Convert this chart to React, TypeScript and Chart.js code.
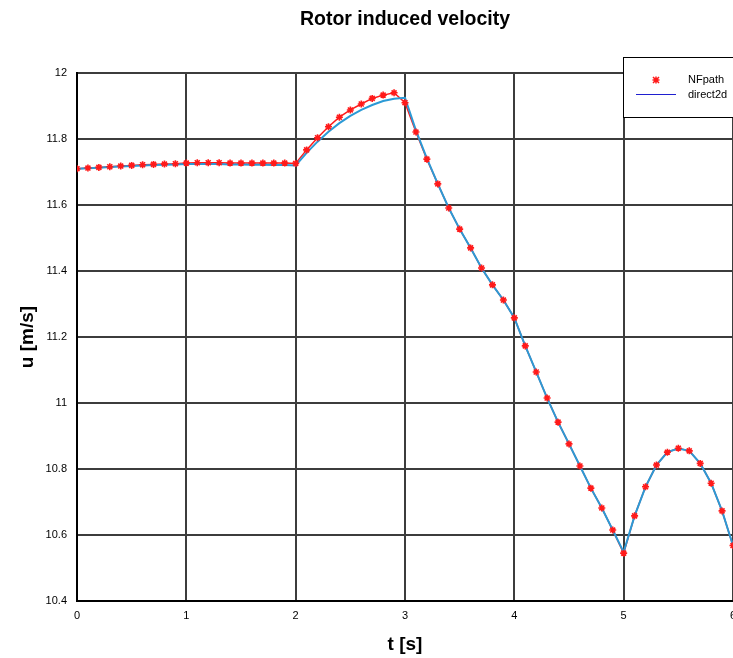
import { useEffect, useRef } from "react";
import { Chart, registerables } from "chart.js";

Chart.register(...registerables);

// Simulation time stamps [s]
const times = [
  0, 0.1, 0.2, 0.3, 0.4, 0.5, 0.6, 0.7, 0.8, 0.9,
  1.0, 1.1, 1.2, 1.3, 1.4, 1.5, 1.6, 1.7, 1.8, 1.9,
  2.0, 2.1, 2.2, 2.3, 2.4, 2.5, 2.6, 2.7, 2.8, 2.9,
  3.0, 3.1, 3.2, 3.3, 3.4, 3.5, 3.6, 3.7, 3.8, 3.9,
  4.0, 4.1, 4.2, 4.3, 4.4, 4.5, 4.6, 4.7, 4.8, 4.9,
  5.0, 5.1, 5.2, 5.3, 5.4, 5.5, 5.6, 5.7, 5.8, 5.9,
  6.0,
];

// Induced velocity from the NFpath model [m/s]
const nfPath = [
  11.710, 11.712, 11.714, 11.716, 11.718, 11.720, 11.722, 11.723, 11.724, 11.725,
  11.727, 11.728, 11.728, 11.728, 11.727, 11.727, 11.727, 11.727, 11.727, 11.727,
  11.726, 11.767, 11.804, 11.837, 11.866, 11.888, 11.906, 11.923, 11.933, 11.940,
  11.910, 11.821, 11.739, 11.664, 11.591, 11.527, 11.470, 11.409, 11.358, 11.312,
  11.258, 11.173, 11.094, 11.015, 10.942, 10.876, 10.809, 10.742, 10.682, 10.615,
  10.545, 10.658, 10.746, 10.812, 10.851, 10.863, 10.855, 10.817, 10.757, 10.673,
  10.568,
];

// Induced velocity from the direct2d model [m/s]
const direct2d = [
  11.710, 11.711, 11.713, 11.715, 11.717, 11.718, 11.720, 11.721, 11.722, 11.723,
  11.724, 11.724, 11.724, 11.724, 11.723, 11.723, 11.722, 11.722, 11.721, 11.721,
  11.720, 11.758, 11.792, 11.822, 11.848, 11.870, 11.888, 11.903, 11.915, 11.922,
  11.925, 11.826, 11.741, 11.664, 11.591, 11.527, 11.470, 11.409, 11.358, 11.312,
  11.258, 11.173, 11.094, 11.015, 10.942, 10.876, 10.809, 10.742, 10.682, 10.615,
  10.548, 10.658, 10.746, 10.812, 10.851, 10.862, 10.855, 10.817, 10.757, 10.673,
  10.568,
];

const X_MIN = 0;
const X_MAX = 6;
const X_STEP = 1;
const Y_MIN = 10.4;
const Y_MAX = 12;
const Y_STEP = 0.2;

const TITLE = "Rotor induced velocity";
const X_TITLE = "t [s]";
const Y_TITLE = "u [m/s]";
const LEGEND_LABELS = ["NFpath", "direct2d"];

const RED = "#ff1a1a";
const CYAN = "#2b9ad6";
const LEGEND_BLUE = "#1f1fd0";
const GRID = "#3c3c3c";
const FONT = '"Liberation Sans", Arial, sans-serif';

const textPlugin = {
  id: "textAndLegend",
  afterDraw(chart: any) {
    const { ctx, chartArea } = chart;
    const cx = (chartArea.left + chartArea.right) / 2;
    const cy = (chartArea.top + chartArea.bottom) / 2;
    ctx.save();
    ctx.fillStyle = "#000";
    ctx.textAlign = "center";
    ctx.textBaseline = "middle";

    ctx.font = `bold 19.5px ${FONT}`;
    ctx.fillText(TITLE, cx, 20);

    ctx.font = `bold 19px ${FONT}`;
    ctx.fillText(X_TITLE, cx, 645);

    ctx.save();
    ctx.translate(28, cy);
    ctx.rotate(-Math.PI / 2);
    ctx.fillText(Y_TITLE, 0, 0);
    ctx.restore();

    // legend box
    const bx = 623.5;
    const by = 57.5;
    ctx.fillStyle = "#fff";
    ctx.fillRect(bx, by, 140, 60);
    ctx.strokeStyle = "#000";
    ctx.lineWidth = 1;
    ctx.strokeRect(bx, by, 140, 60);

    // NFpath marker
    const mx = 656;
    const my = 80;
    ctx.strokeStyle = RED;
    ctx.lineWidth = 1.5;
    ctx.beginPath();
    ctx.moveTo(mx - 3, my - 3);
    ctx.lineTo(mx + 3, my + 3);
    ctx.moveTo(mx - 3, my + 3);
    ctx.lineTo(mx + 3, my - 3);
    ctx.moveTo(mx - 3.5, my);
    ctx.lineTo(mx + 3.5, my);
    ctx.moveTo(mx, my - 3.5);
    ctx.lineTo(mx, my + 3.5);
    ctx.stroke();

    // direct2d line
    ctx.strokeStyle = LEGEND_BLUE;
    ctx.lineWidth = 1.2;
    ctx.beginPath();
    ctx.moveTo(636, 94.5);
    ctx.lineTo(676, 94.5);
    ctx.stroke();

    ctx.fillStyle = "#000";
    ctx.font = `11px ${FONT}`;
    ctx.textAlign = "left";
    ctx.fillText(LEGEND_LABELS[0], 688, 80);
    ctx.fillText(LEGEND_LABELS[1], 688, 95);
    ctx.restore();
  },
};

export default function App() {
  const canvasRef = useRef<HTMLCanvasElement | null>(null);

  useEffect(() => {
    const canvas = canvasRef.current;
    if (!canvas) return;
    const nfPoints = times.map((t, i) => ({ x: t, y: nfPath[i] }));
    const d2Points = times.map((t, i) => ({ x: t, y: direct2d[i] }));

    const chart = new Chart(canvas, {
      type: "line",
      data: {
        datasets: [
          {
            label: "NFpath line",
            data: nfPoints,
            borderColor: RED,
            borderWidth: 1.5,
            pointRadius: 0,
            fill: false,
            order: 3,
          },
          {
            label: LEGEND_LABELS[1],
            data: d2Points,
            borderColor: CYAN,
            borderWidth: 2,
            pointRadius: 0,
            fill: false,
            order: 2,
          },
          {
            label: LEGEND_LABELS[0],
            data: nfPoints,
            showLine: false,
            pointStyle: "star",
            pointRadius: 3.5,
            borderColor: RED,
            backgroundColor: RED,
            pointBorderWidth: 1.6,
            order: 1,
          },
        ],
      },
      options: {
        responsive: false,
        animation: false,
        devicePixelRatio: 1,
        layout: { padding: { top: 73, right: 67, bottom: 0, left: 0 } },
        plugins: {
          legend: { display: false },
          title: { display: false },
          tooltip: { enabled: false },
        },
        scales: {
          x: {
            type: "linear",
            min: X_MIN,
            max: X_MAX,
            afterFit(scale: any) {
              scale.height = 57;
            },
            ticks: {
              stepSize: X_STEP,
              padding: 8,
              color: "#000",
              font: { family: FONT, size: 11 },
              maxRotation: 0,
            },
            grid: { color: GRID, lineWidth: 2, drawTicks: false },
            border: { color: "#000", width: 2 },
          },
          y: {
            type: "linear",
            min: Y_MIN,
            max: Y_MAX,
            afterFit(scale: any) {
              scale.width = 77;
            },
            ticks: {
              stepSize: Y_STEP,
              padding: 10,
              color: "#000",
              font: { family: FONT, size: 11 },
              callback: (v: any) => String(Math.round(Number(v) * 10) / 10),
            },
            grid: { color: GRID, lineWidth: 2, drawTicks: false },
            border: { color: "#000", width: 2 },
          },
        },
      },
      plugins: [textPlugin],
    });
    return () => chart.destroy();
  }, []);

  return (
    <div
      style={{
        position: "fixed",
        left: 0,
        top: 0,
        width: 733,
        height: 658,
        overflow: "hidden",
        background: "#fff",
      }}
    >
      <canvas
        ref={canvasRef}
        width={800}
        height={658}
        style={{ width: 800, height: 658, display: "block" }}
      />
    </div>
  );
}
